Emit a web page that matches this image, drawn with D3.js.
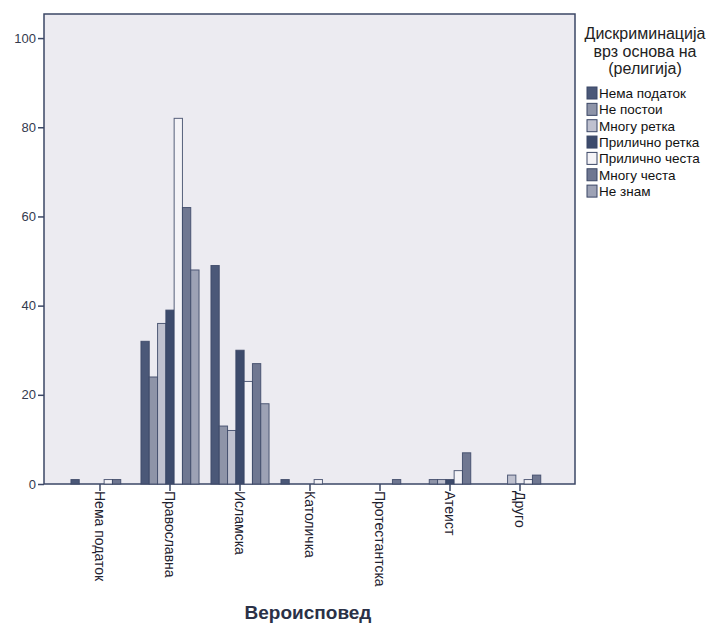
<!DOCTYPE html>
<html><head><meta charset="utf-8">
<script src="https://cdn.jsdelivr.net/npm/d3@7"></script>
<style>body{margin:0;background:#fff;} text{font-family:"Liberation Sans",Arial,sans-serif;}</style>
</head><body>
<svg id="c" width="713" height="625"></svg>
<script>
const categories = ["Нема податок","Православна","Исламска","Католичка","Протестантска","Атеист","Друго"];
const seriesNames = ["Нема податок","Не постои","Многу ретка","Прилично ретка","Прилично честа","Многу честа","Не знам"];
const seriesColors = ["#4b5878","#8e94a8","#bfc1cf","#3d4b6c","#f4f3f7","#6f7791","#9da2b5"];
const nemaPodatok   = [1,32,49,1,0,0,0];
const nePostoi      = [0,24,13,0,0,1,0];
const mnoguRetka    = [0,36,12,0,0,1,2];
const prilicnoRetka = [0,39,30,0,0,1,0];
const prilicnoCesta = [1,82,23,1,0,3,1];
const mnoguCesta    = [1,62,27,0,1,7,2];
const neZnam        = [0,48,18,0,0,0,0];
const seriesValues = [nemaPodatok,nePostoi,mnoguRetka,prilicnoRetka,prilicnoCesta,mnoguCesta,neZnam];
const yTicks = [0,20,40,60,80,100];
const legendTitle = ["Дискриминација","врз основа на","(религија)"];
const xTitle = "Вероисповед";

const svg = d3.select("#c");
const L=44, R=575, T=14, B=484;
const axisColor = "#3b4766";
svg.append("rect").attr("x",L).attr("y",T).attr("width",R-L).attr("height",B-T)
  .attr("fill","#ecebf1").attr("stroke",axisColor).attr("stroke-width",1.5);

const y = d3.scaleLinear().domain([0,105.4]).range([B,T]);
const x = d3.scaleBand().domain(categories).range([65,555]).paddingInner(0.17).paddingOuter(0.085);
const xs = d3.scaleBand().domain(seriesNames).range([0,x.bandwidth()]);

const g = svg.append("g");
seriesNames.forEach((s,si)=>{
  categories.forEach((c,ci)=>{
    const v = seriesValues[si][ci];
    if(v<=0) return;
    g.append("rect").attr("x",x(c)+xs(s)).attr("y",y(v)).attr("width",xs.bandwidth()).attr("height",B-y(v))
      .attr("fill",seriesColors[si]).attr("stroke",axisColor).attr("stroke-width",1).attr("stroke-opacity",0.85);
  });
});

// y axis
const ya = svg.append("g").attr("transform",`translate(${L},0)`).call(d3.axisLeft(y).tickValues(yTicks).tickSize(6).tickPadding(2));
ya.select(".domain").remove();
ya.selectAll("line").attr("stroke",axisColor).attr("stroke-width",1.5);
ya.selectAll("text").attr("font-size",13).attr("fill","#333a4e").style("font-family","Liberation Sans, Arial, sans-serif");

// x axis
const xa = svg.append("g").attr("transform",`translate(0,${B})`).call(d3.axisBottom(x).tickSize(7).tickPadding(0));
xa.select(".domain").remove();
xa.selectAll("line").attr("stroke",axisColor).attr("stroke-width",1.5);
xa.selectAll("text").attr("font-size",14).attr("fill","#1e2230")
  .attr("transform","rotate(90)").attr("text-anchor","start").attr("dy","0.35em").attr("x",7).attr("y",0)
  .style("font-family","Liberation Sans, Arial, sans-serif");

svg.append("text").attr("x",308).attr("y",619).attr("text-anchor","middle").attr("font-size",19)
  .attr("font-weight","bold").attr("fill","#2b3147").text(xTitle);

// legend
const lg = svg.append("g");
legendTitle.forEach((t,i)=>{
  lg.append("text").attr("x",645).attr("y",39+i*17.5).attr("text-anchor","middle").attr("font-size",16).attr("fill","#222").text(t);
});
seriesNames.forEach((s,i)=>{
  const yy = 87 + i*16.35;
  lg.append("rect").attr("x",587).attr("y",yy).attr("width",10).attr("height",12)
    .attr("fill",seriesColors[i]).attr("stroke",axisColor).attr("stroke-width",1);
  lg.append("text").attr("x",599).attr("y",yy+11).attr("font-size",13.5).attr("fill","#111").text(s);
});
</script>
</body></html>
